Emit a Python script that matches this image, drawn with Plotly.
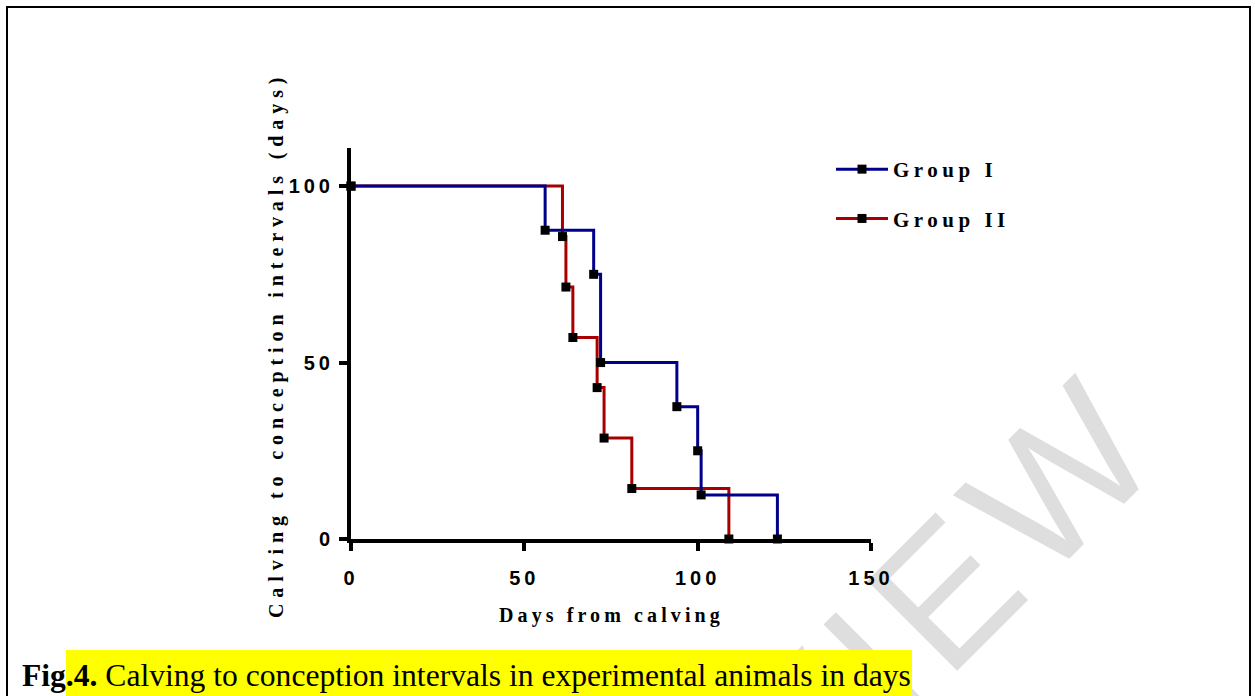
import plotly.graph_objects as go

# ---- data ----
group1_days = [0, 56, 70, 72, 94, 100, 101, 123]
group1_pct = [100, 87.5, 75, 50, 37.5, 25, 12.5, 0]
group2_days = [0, 61, 62, 64, 71, 73, 81, 109]
group2_pct = [100, 85.7, 71.4, 57.1, 42.9, 28.6, 14.3, 0]
series_names = ["Group I", "Group II"]
x_ticks = [0, 50, 100, 150]
y_ticks = [0, 50, 100]
x_title = "Days from calving"
y_title = "Calving to conception intervals (days)"
caption_bold = "Fig.4."
caption_text = "Calving to conception intervals in experimental animals in days"

W, H = 1255, 696
L, R, T, B = 351, 871, 148, 539


def px(x):
    return (x - L) / (R - L)


def py(y):
    return (B - y) / (B - T)


def spaced(s, ls):
    return f"<span style='letter-spacing:{ls}px'>{s}</span>"


BLUE = "#00008B"
RED = "#A80000"

fig = go.Figure()
fig.add_trace(go.Scatter(
    x=group2_days, y=group2_pct, name=spaced(series_names[1], 4.5),
    mode="lines+markers", line=dict(shape="hv", color=RED, width=3),
    marker=dict(symbol="square", size=9, color="black"),
    cliponaxis=False, legendrank=2, legendgroup="g2"))
fig.add_trace(go.Scatter(
    x=group1_days, y=group1_pct, name=spaced(series_names[0], 4.5),
    mode="lines+markers", line=dict(shape="hv", color=BLUE, width=3),
    marker=dict(symbol="square", size=9, color="black"),
    cliponaxis=False, legendrank=1, legendgroup="g1"))

axis_common = dict(
    showline=True, linewidth=4, linecolor="black", ticks="outside",
    ticklen=8, tickwidth=4, tickcolor="black", showgrid=False,
    zeroline=False, tickfont=dict(family="Liberation Sans", size=20,
                                  color="black"))

fig.update_xaxes(range=[0, 150], tickvals=x_ticks,
                 ticktext=[f"<b>{spaced(v, 4)}</b>" for v in x_ticks],
                 ticklabelstandoff=10, **axis_common)
fig.update_yaxes(range=[0, 110.8], tickvals=y_ticks,
                 ticktext=[f"<b>{spaced(v, 4)}</b>" for v in y_ticks],
                 ticklabelstandoff=1, **axis_common)

shapes = [
    # watermark
    dict(type="rect", xref="paper", yref="paper",
         x0=px(852), x1=px(1012), y0=py(660), y1=py(500),
         line=dict(width=0), fillcolor="rgba(0,0,0,0)", layer="below",
         label=dict(text=spaced("VIEW", 12), textangle=-45,
                    textposition="middle center",
                    font=dict(family="Liberation Sans", size=185,
                              color="#dedede"))),
    # caption highlight
    dict(type="rect", xref="paper", yref="paper",
         x0=px(66), x1=px(912), y0=py(700), y1=py(650),
         line=dict(width=0), fillcolor="#FFFF00", layer="below"),
    # frame
    dict(type="rect", xref="paper", yref="paper",
         x0=px(7), x1=px(1250), y0=py(720), y1=py(7),
         line=dict(width=2, color="black"), fillcolor="rgba(0,0,0,0)",
         layer="below"),
]

annotations = [
    dict(xref="paper", yref="paper", x=px(276), y=py(345),
         text=f"<b>{spaced(y_title, 5.9)}</b>", textangle=-90, showarrow=False,
         font=dict(family="Liberation Serif", size=20, color="black"),
         xanchor="center", yanchor="middle"),
    dict(xref="paper", yref="paper", x=px(611), y=py(615),
         text=f"<b>{spaced(x_title, 4.1)}</b>", showarrow=False,
         font=dict(family="Liberation Serif", size=20, color="black"),
         xanchor="center", yanchor="middle"),
    dict(xref="paper", yref="paper", x=px(20), y=py(675),
         text=f"<b>{caption_bold}</b> {caption_text}", showarrow=False,
         font=dict(family="Liberation Serif", size=31.6, color="black"),
         xanchor="left", yanchor="middle"),
]

fig.update_layout(
    width=W, height=H,
    margin=dict(l=L, r=W - R, t=T, b=H - B, pad=0),
    paper_bgcolor="white", plot_bgcolor="rgba(0,0,0,0)",
    showlegend=True,
    legend=dict(x=px(831), y=py(149), xanchor="left", yanchor="top",
                bgcolor="rgba(0,0,0,0)", itemwidth=52,
                traceorder="grouped", tracegroupgap=19,
                font=dict(family="Liberation Serif", size=21, color="black",
                          weight="bold")),
    shapes=shapes, annotations=annotations,
)

fig.write_html("out.html")
